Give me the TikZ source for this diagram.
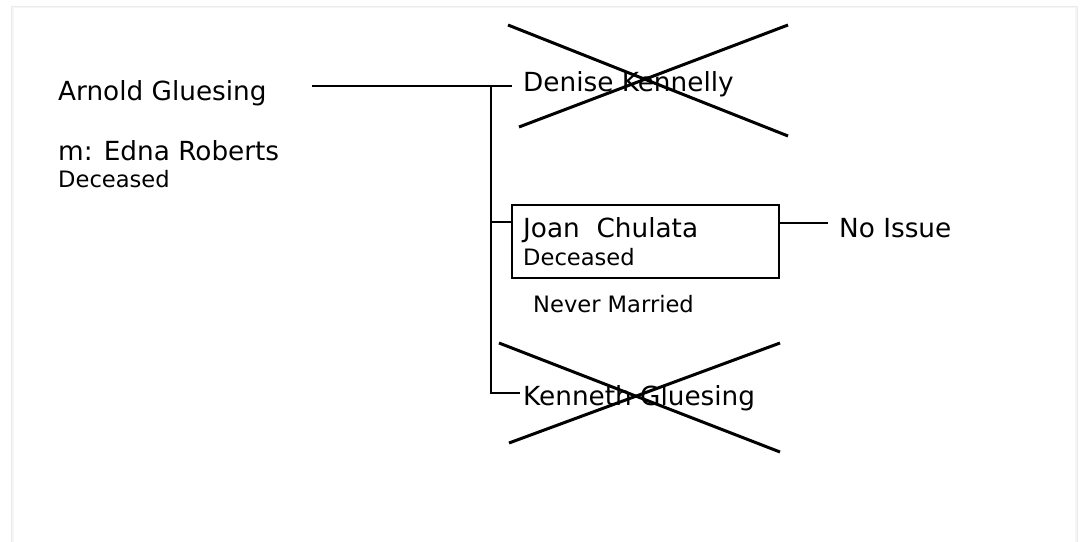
\documentclass[tikz,border=0pt]{standalone}
\usepackage{fontspec}
\setmainfont{DejaVu Sans}
\begin{document}
\begin{tikzpicture}[x=1pt,y=-1pt,
  big/.style={inner sep=0pt,anchor=base west,font=\fontsize{26.3}{30}\selectfont},
  small/.style={inner sep=0pt,anchor=base west,font=\fontsize{22.6}{26}\selectfont},
  conn/.style={line width=1.4pt,black},
  cross/.style={line width=3pt,black},
  box/.style={draw,line width=1.5pt,minimum width=267pt,minimum height=73pt,anchor=north west,inner sep=0pt}]
\useasboundingbox (0,0) rectangle (1084,541);
% sheet with shadow
\fill[black!8] (11,6) rectangle (1078,545);
\fill[black!4] (12,7) rectangle (1077,545);
\fill[white] (14,8) rectangle (1075,545);
% texts
\node[big] (arnold) at (58,100) {Arnold Gluesing};
\node[big] (edna) at (58,160) {m: Edna Roberts};
\node[small] (adec) at (58,187) {Deceased};
\node[big] (denise) at (523,91) {Denise Kennelly};
\node[box] (joanbox) at (511,204) {};
\node[big] (joan) at (523,237) {Joan\ \ Chulata};
\node[small] (jdec) at (523,265) {Deceased};
\node[big] (noissue) at (839,237) {No Issue};
\node[small] (never) at (533,312) {Never Married};
\node[big] (kenneth) at (523,405) {Kenneth Gluesing};
% junction coordinates
\coordinate (astart) at (312,86);
\coordinate (jtop) at (491,86);
\coordinate (dend) at (512,86);
\coordinate (jmid) at (491,222);
\coordinate (jbot) at (491,393);
\coordinate (kend) at (520,393);
\coordinate (niend) at (828,223);
% connectors
\draw[conn] (astart) -- (jtop) -- (dend);
\draw[conn] (jtop) -- (jbot) -- (kend);
\draw[conn] (jmid) -- (jmid -| joanbox.west);
\draw[conn] (joanbox.east |- niend) -- (niend);
% crosses
\draw[cross] (508,25) -- (788,136);
\draw[cross] (519,127) -- (788,25);
\draw[cross] (499,343) -- (780,452);
\draw[cross] (509,443) -- (780,343);
\end{tikzpicture}
\end{document}
